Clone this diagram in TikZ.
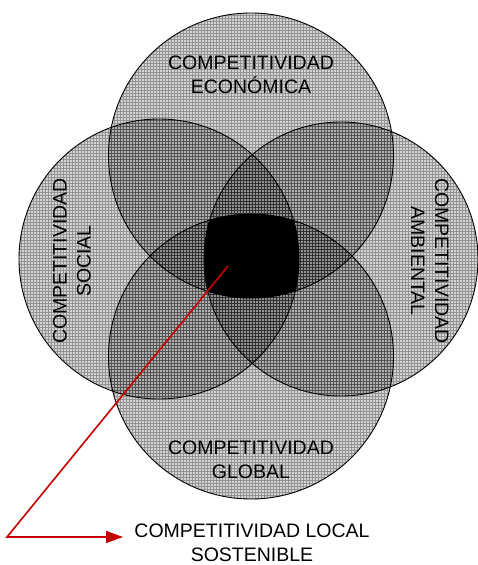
\documentclass[tikz,border=0pt]{standalone}
\usepackage{fontspec}
\setmainfont{Liberation Sans}
\usetikzlibrary{arrows.meta}
\definecolor{arrowred}{HTML}{C80000}
\begin{document}
\begin{tikzpicture}[x=1pt,y=-1pt,
  lbl/.style={font=\fontsize{19.5}{24}\selectfont, align=center, inner sep=0pt, text=black},
  ring/.style={draw=black, line width=0.9pt},
  shadefill/.style={fill=black, fill opacity=0.17},
  gridl/.style={draw=black, draw opacity=0.3, line width=0.4pt},
  redarrow/.style={draw=arrowred, line width=1.6pt, -{Triangle[length=17pt,width=12pt]}}]
\useasboundingbox (0,0) rectangle (478,565);
\fill[white] (0,0) rectangle (478,565);
\coordinate (T) at (251,155.5);
\coordinate (B) at (251,356.5);
\coordinate (L) at (159,259);
\coordinate (R) at (341,259);
\def\rT{142.5}\def\rB{142.5}\def\rL{140}\def\rR{137}
% shaded circles with grid texture
\foreach \c/\r in {T/\rT,B/\rB,L/\rL,R/\rR}{
  \begin{scope}
    \clip (\c) circle[radius=\r];
    \fill[shadefill] (\c) circle[radius=\r];
    \draw[gridl] (0,565) grid[step=3pt] (478,0);
  \end{scope}
}
% intersection of all four
\begin{scope}
  \clip (T) circle[radius=\rT];
  \clip (B) circle[radius=\rB];
  \clip (L) circle[radius=\rL];
  \clip (R) circle[radius=\rR];
  \fill[black] (0,0) rectangle (478,565);
\end{scope}
% outlines
\draw[ring] (T) circle[radius=\rT];
\draw[ring] (B) circle[radius=\rB];
\draw[ring] (L) circle[radius=\rL];
\draw[ring] (R) circle[radius=\rR];
% labels
\node[lbl] (eco) at (251,75) {COMPETITIVIDAD\\ECONÓMICA};
\node[lbl] (glo) at (251,460) {COMPETITIVIDAD\\GLOBAL};
\node[lbl, rotate=90] (soc) at (72,261) {COMPETITIVIDAD\\SOCIAL};
\node[lbl, rotate=-90] (amb) at (430,261) {COMPETITIVIDAD\\AMBIENTAL};
\node[lbl] (loc) at (252,543) {COMPETITIVIDAD LOCAL\\SOSTENIBLE};
% pointer
\coordinate (ctr) at (228,266);
\coordinate (bend) at (7,537);
\coordinate (tip) at (123,537);
\draw[redarrow] (ctr) -- (bend) -- (tip);
\end{tikzpicture}
\end{document}
